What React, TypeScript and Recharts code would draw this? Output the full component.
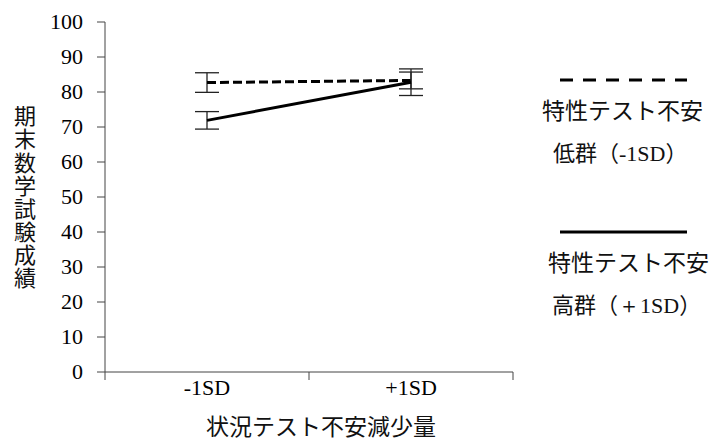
import React from 'react';
import { LineChart, Line, XAxis, YAxis, ErrorBar, Legend, Label } from 'recharts';

// 状況テスト不安減少量 (-1SD / +1SD)
const groups = ['-1SD', '+1SD'];
// 特性テスト不安 低群
const lowTraitMeans = [82.7, 83.3];
const lowTraitErrors = [2.8, 2.4];
// 特性テスト不安 高群
const highTraitMeans = [71.9, 82.8];
const highTraitErrors = [2.5, 3.8];

const yTicks = [0, 10, 20, 30, 40, 50, 60, 70, 80, 90, 100];
const yTitle = '期末数学試験成績';
const xTitle = '状況テスト不安減少量';
const legendLabels = [
  ['特性テスト不安', '低群（', '-1SD', '）'],
  ['特性テスト不安', '高群（', '＋1SD', '）'],
];

// category centres sit between boundary ticks, like the original
const data = groups.map((g, i) => ({
  pos: i + 0.5,
  group: g,
  low: lowTraitMeans[i],
  lowErr: lowTraitErrors[i],
  high: highTraitMeans[i],
  highErr: highTraitErrors[i],
}));
const xTicks = groups.flatMap((_, i) => [i, i + 0.5]).concat(groups.length);

const serif = '"Liberation Serif", "DejaVu Serif", serif';
const cjk = '"Noto Sans CJK JP", "Noto Sans", sans-serif';
const axisColor = '#444';

const XTick = (props: any) => {
  const { x, y, payload } = props;
  const v = payload.value;
  if (Number.isInteger(v)) {
    return <line x1={x} x2={x} y1={y - 8} y2={y} stroke={axisColor} strokeWidth={1} />;
  }
  return (
    <text x={x} y={y + 15} textAnchor="middle" fontFamily={serif} fontSize={22} fill="#000">
      {groups[Math.floor(v)]}
    </text>
  );
};

const YTick = (props: any) => {
  const { x, y, payload } = props;
  return (
    <text x={x} y={y} dy={7} textAnchor="end" fontFamily={serif} fontSize={22} fill="#000">
      {payload.value}
    </text>
  );
};

const renderLegend = (props: any) => {
  const { payload } = props;
  const indents = [
    [2, 13],
    [8, 12],
  ];
  return (
    <svg width={179} height={280} style={{ display: 'block' }}>
      {(payload || []).map((entry: any, i: number) => {
        const top = i * 152;
        const dash = entry.payload?.strokeDasharray;
        const lbl = legendLabels[i];
        return (
          <g key={i}>
            <line x1={20} x2={147} y1={top + 20} y2={top + 20} stroke="#000" strokeWidth={3}
              strokeDasharray={dash ? '13 10' : undefined} />
            <text x={indents[i][0]} y={top + 59} fontFamily={cjk} fontSize={23} fill="#111">{lbl[0]}</text>
            <text x={indents[i][1]} y={top + 101} fontFamily={cjk} fontSize={22} fill="#111">
              {lbl[1]}
              <tspan fontFamily={serif} fontSize={22}>{lbl[2]}</tspan>
              {lbl[3]}
            </text>
          </g>
        );
      })}
    </svg>
  );
};

export default function App() {
  return (
    <div style={{ position: 'absolute', left: 0, top: 0, width: 719, height: 444, background: '#fff' }}>
      <LineChart width={719} height={444} data={data} margin={{ top: 22, right: 206, bottom: 0, left: 0 }}>
        <XAxis
          dataKey="pos"
          type="number"
          domain={[0, groups.length]}
          ticks={xTicks}
          interval={0}
          height={72}
          tickLine={false}
          tickSize={8}
          tickMargin={0}
          stroke={axisColor}
          tick={<XTick />}
        >
          <Label
            content={() => (
              <text x={321} y={435} textAnchor="middle" fontFamily={cjk} fontSize={23} fill="#111">
                {xTitle}
              </text>
            )}
          />
        </XAxis>
        <YAxis
          type="number"
          domain={[0, 100]}
          ticks={yTicks}
          interval={0}
          width={105}
          tickSize={8}
          tickMargin={14}
          stroke={axisColor}
          tick={<YTick />}
        >
          <Label
            content={() => (
              <text
                x={25}
                y={105}
                fontFamily={cjk}
                fontSize={22}
                fill="#111"
                letterSpacing={1.1}
                style={{ writingMode: 'vertical-rl' }}
              >
                {yTitle}
              </text>
            )}
          />
        </YAxis>
        <Legend
          layout="horizontal"
          verticalAlign="middle"
          align="center"
          content={renderLegend}
          wrapperStyle={{ left: 540, top: 60, width: 179, height: 280 }}
        />
        <Line
          dataKey="low"
          name="特性テスト不安低群（-1SD）"
          stroke="#000"
          strokeWidth={3}
          strokeDasharray="9 4"
          dot={false}
          activeDot={false}
          isAnimationActive={false}
        >
          <ErrorBar dataKey="lowErr" direction="y" width={12} stroke="#222" strokeWidth={1.3} />
        </Line>
        <Line
          dataKey="high"
          name="特性テスト不安高群（＋1SD）"
          stroke="#000"
          strokeWidth={3}
          dot={false}
          activeDot={false}
          isAnimationActive={false}
        >
          <ErrorBar dataKey="highErr" direction="y" width={12} stroke="#222" strokeWidth={1.3} />
        </Line>
      </LineChart>
    </div>
  );
}
